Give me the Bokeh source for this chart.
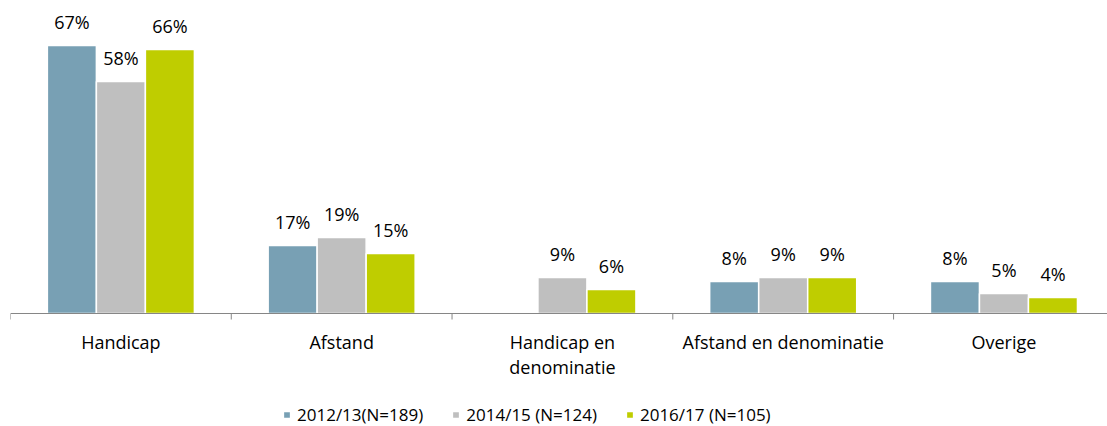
from bokeh.plotting import figure
from bokeh.models import ColumnDataSource, Legend, LegendItem, Range1d, Span
from bokeh.core.properties import value
from bokeh.transform import dodge
from bokeh.embed import file_html
from bokeh.resources import INLINE

categories = ["Handicap", "Afstand", "Handicap en\ndenominatie", "Afstand en denominatie", "Overige"]
series = ["2012/13(N=189)", "2014/15 (N=124)", "2016/17 (N=105)"]
v2012 = [67, 17, None, 8, 8]
v2014 = [58, 19, 9, 9, 5]
v2016 = [66, 15, 6, 9, 4]
colors = ["#78A0B4", "#BFBFBF", "#BFCD00"]

FONT = "Open Sans"
n = len(categories)
centers = [i + 0.5 for i in range(n)]
bounds = [float(i) for i in range(n + 1)]

# frame spans the full canvas; value 0 sits 313 px from the top (4 px per %)
p = figure(frame_width=1097, frame_height=426, output_backend="svg", toolbar_location=None,
           x_range=Range1d(0, 4.969), y_range=Range1d(-28.25, 78.25),
           min_border_left=10, min_border_right=0, min_border_top=0, min_border_bottom=0)
p.outline_line_color = None
p.grid.visible = False
p.axis.visible = False

offsets = [-0.222, 0.0, 0.222]
items = []
for vals, name, col, off in zip([v2012, v2014, v2016], series, colors, offsets):
    tops = [float("nan") if v is None else v for v in vals]
    labels = ["" if v is None else f"{v}%" for v in vals]
    src = ColumnDataSource(dict(x=centers, top=tops, lab=labels))
    # soft drop shadow
    p.vbar(x=dodge("x", off + 0.009, range=p.x_range), top="top", bottom=0, width=0.222,
           source=src, fill_color="#000000", fill_alpha=0.10, line_color=None,
           y_offset=3) if False else None
    r = p.vbar(x=dodge("x", off, range=p.x_range), top="top", bottom=0, width=0.222,
               source=src, fill_color=col, line_color="white", line_width=1.5)
    p.text(x=dodge("x", off, range=p.x_range), y="top", text="lab", source=src,
           text_align="center", text_baseline="alphabetic", y_offset=-24,
           text_font=value(FONT), text_font_size="18px", text_color="#000000")
    items.append(LegendItem(label=name, renderers=[r]))

# category axis: baseline, boundary ticks and category labels
p.add_layout(Span(location=0, dimension="width", line_color="#868686", line_width=1))
p.segment(x0=bounds, x1=bounds, y0=[0] * len(bounds), y1=[-1.5] * len(bounds),
          line_color="#868686", line_width=1)
p.text(x=centers, y=[0] * n, text=categories, text_align="center", text_baseline="top",
       y_offset=16, text_font=value(FONT), text_font_size="18px",
       text_line_height=1.05, text_color="#000000")

legend = Legend(items=items, orientation="horizontal", location=(272, 0),
                glyph_width=9, glyph_height=9, label_standoff=6, spacing=28,
                label_text_font=FONT, label_text_font_size="17px",
                label_text_color="#000000", border_line_color=None,
                background_fill_alpha=0, padding=4, margin=0)
p.add_layout(legend)

open("out.html", "w").write(file_html(p, INLINE))
